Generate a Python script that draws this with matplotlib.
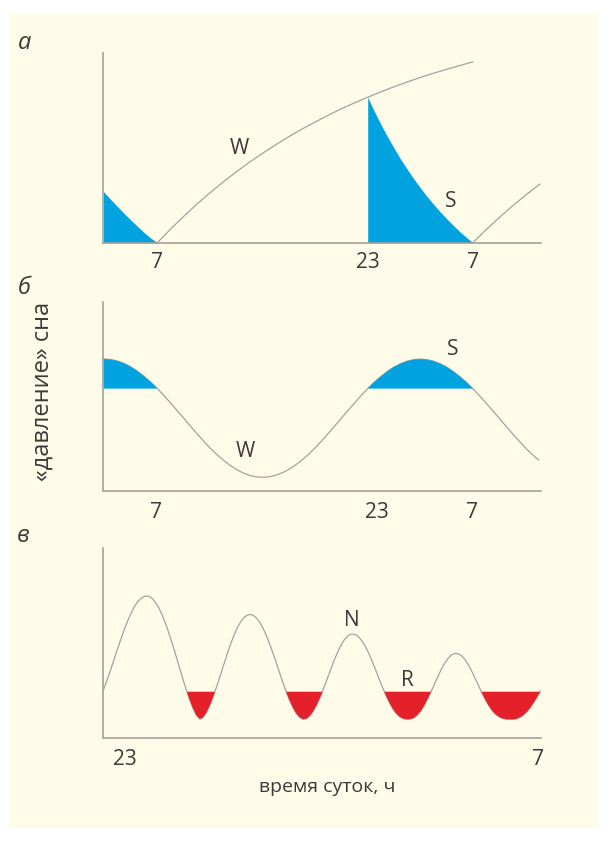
import numpy as np
import matplotlib
matplotlib.use("Agg")
import matplotlib.pyplot as plt
from matplotlib.patches import Rectangle

plt.rcParams['font.family'] = ['Open Sans', 'DejaVu Sans']

# ---------------- data ----------------
# panel а: hours (7 = 7:00, 23 = 23:00, 31 = 7:00 next day)
a_W_hours = list(range(7, 32))
a_W = [0.0, 7.2, 13.9, 20.3, 26.3, 32.0, 37.3, 42.4, 47.1, 51.6, 55.9, 59.9, 63.6,
       67.2, 70.6, 73.7, 76.7, 79.5, 82.2, 84.7, 87.1, 89.3, 91.4, 93.4, 95.3]
a_S_hours = [23 + 0.5 * i for i in range(17)]
a_S = [76.7, 69.3, 62.4, 56.0, 49.9, 44.1, 38.8, 33.7, 29.0, 24.5, 20.3, 16.4,
       12.7, 9.2, 5.9, 2.9, 0.0]
a_Sprev_hours = [2.9, 3.5, 4, 4.5, 5, 5.5, 6, 6.5, 7]
a_Sprev = [26.9, 22.4, 18.8, 15.2, 11.8, 8.5, 5.3, 2.4, 0.0]
a_Wnext_hours = [31, 32, 33, 34, 35, 36.1]
a_Wnext = [0.0, 6.8, 13.2, 19.3, 25.0, 30.9]

# panel б: sleep pressure, half-hour samples
b_hours = [2.9] + [3 + 0.5 * i for i in range(67)]
b_P = [69.7,
       69.7, 69.4, 68.6, 67.3, 65.5, 63.2, 60.5, 57.5, 54.1, 50.4, 46.5, 42.5, 38.5,
       34.4, 30.4, 26.5, 22.8, 19.4, 16.4, 13.7, 11.4, 9.6, 8.3, 7.5, 7.2,
       7.5, 8.3, 9.6, 11.4, 13.7, 16.4, 19.4, 22.8, 26.5, 30.4, 34.4, 38.5,
       42.5, 46.5, 50.4, 54.1, 57.5, 60.5, 63.2, 65.5, 67.3, 68.6, 69.4, 69.7,
       69.4, 68.6, 67.3, 65.5, 63.2, 60.5, 57.5, 54.1, 50.4, 46.5, 42.5, 38.5,
       34.4, 30.4, 26.5, 22.8, 19.4, 16.4]
b_threshold = 54.1

# panel в: sleep stages, samples every 4 minutes from 23:00
v_minutes = list(range(-26, 483, 4))
v_depth = [25.1, 30.1, 35.3, 40.8, 46.3, 51.6, 56.7, 61.4, 65.5, 69.0, 71.7, 73.5, 74.5,
           74.5, 73.5, 71.5, 68.6, 64.8, 60.2, 55.1, 49.4, 43.5, 37.4, 31.3, 25.5, 20.1,
           15.5, 11.8, 9.8, 10.8, 13.6, 17.5, 22.3, 27.5, 33.1, 38.8, 44.4, 49.6, 54.3,
           58.3, 61.4, 63.6, 64.7, 64.8, 63.8, 61.8, 58.9, 55.1, 50.7, 45.8, 40.5, 35.0,
           29.7, 24.6, 19.9, 16.0, 12.8, 10.7, 9.7, 10.1, 11.6, 14.1, 17.5, 21.5, 26.1,
           31.0, 35.9, 40.6, 44.9, 48.7, 51.6, 53.6, 54.5, 54.4, 53.3, 51.2, 48.3, 44.7,
           40.5, 36.0, 31.3, 26.8, 22.5, 18.7, 15.4, 12.9, 11.1, 10.1, 9.7, 9.8, 10.3,
           11.6, 13.6, 16.4, 19.8, 23.6, 27.6, 31.6, 35.5, 38.8, 41.5, 43.4, 44.3, 44.2,
           43.2, 41.2, 38.4, 35.0, 31.2, 27.3, 23.4, 19.8, 16.7, 14.1, 12.2, 10.9, 10.1,
           9.8, 9.7, 9.7, 10.0, 10.7, 11.9, 13.6, 15.9, 18.5, 21.5, 24.5]
v_threshold = 24.2

# tick labels
a_ticks, a_ticklabels = [7, 23, 31], ["7", "23", "7"]
b_ticks, b_ticklabels = [6.9, 23.7, 30.9], ["7", "23", "7"]
v_ticks, v_ticklabels = [22.98, 30.98], ["23", "7"]

# ---------------- style ----------------
BG = '#FEFBE9'
AXC = '#a2a298'
LINE = '#a3a39e'
BLUE = '#00A3DF'
RED = '#E4202B'
TXT = '#3a3a3a'

W_PX, H_PX = 609, 841
fig = plt.figure(figsize=(W_PX / 100, H_PX / 100), dpi=100, facecolor='white')
bg = Rectangle((10 / W_PX, 13 / H_PX), 588 / W_PX, 815 / H_PX,
               transform=fig.transFigure, facecolor=BG, edgecolor='none', zorder=-10)
fig.patches.append(bg)


def px_axes(x0, y_top, x1, y_bot):
    ax = fig.add_axes([x0 / W_PX, 1 - y_bot / H_PX, (x1 - x0) / W_PX,
                       (y_bot - y_top) / H_PX])
    ax.set_zorder(5)
    return ax


def style(ax, ticks, labels, pad):
    ax.patch.set_visible(False)
    for s in ('top', 'right'):
        ax.spines[s].set_visible(False)
    for s in ('left', 'bottom'):
        ax.spines[s].set_color(AXC)
        ax.spines[s].set_linewidth(1.2)
    ax.set_yticks([])
    ax.set_xticks(ticks)
    ax.set_xticklabels(labels, fontsize=15, color=TXT)
    ax.tick_params(axis='x', length=0, pad=pad)
    ax.set_ylim(0, 100)


LBL = 15

# panel а
ax1 = px_axes(103.5, 53, 541.2, 242.7)
ax1.set_xlim(2.9, 36.2)
ax1.fill_between(a_S_hours, 0, a_S, color=BLUE, lw=0, zorder=2)
ax1.fill_between(a_Sprev_hours, 0, a_Sprev, color=BLUE, lw=0, zorder=2)
ax1.plot(a_W_hours, a_W, color=LINE, lw=0.9, zorder=1)
ax1.plot(a_Wnext_hours, a_Wnext, color=LINE, lw=0.9, zorder=1)
ax1.text(13.2, 49.5, "W", fontsize=LBL, color=TXT, ha='center', va='center')
ax1.text(29.3, 21.6, "S", fontsize=LBL, color=TXT, ha='center', va='center')
style(ax1, a_ticks, a_ticklabels, 6.5)

# panel б
ax2 = px_axes(103.5, 301.7, 541.2, 491)
ax2.set_xlim(2.9, 36.2)
ax2.plot(b_hours, b_P, color=LINE, lw=0.9, zorder=1)
bp = np.array(b_P)
ax2.fill_between(b_hours, b_threshold, b_P, where=bp >= b_threshold,
                 interpolate=True, color=BLUE, lw=0, zorder=2)
ax2.text(13.7, 20.8, "W", fontsize=LBL, color=TXT, ha='center', va='center')
ax2.text(29.5, 74.9, "S", fontsize=LBL, color=TXT, ha='center', va='center')
style(ax2, b_ticks, b_ticklabels, 8.2)

# panel в
ax3 = px_axes(103.5, 547.7, 541.2, 737.7)
v_hours = [23 + m / 60 for m in v_minutes]
ax3.set_xlim(22.567, 31.045)
ax3.plot(v_hours, v_depth, color=LINE, lw=0.9, zorder=1)
vd = np.array(v_depth)
ax3.fill_between(v_hours, vd, v_threshold, where=vd <= v_threshold,
                 interpolate=True, color=RED, lw=0, zorder=2)
ax3.text(27.375, 61.9, "N", fontsize=LBL, color=TXT, ha='center', va='center')
ax3.text(28.45, 30.0, "R", fontsize=LBL, color=TXT, ha='center', va='center')
style(ax3, v_ticks, v_ticklabels, 7.9)

# panel letters and axis titles
for (x, y, s) in [(25, 43, "а"), (24, 288, "б"), (23, 536, "в")]:
    fig.text(x / W_PX, 1 - y / H_PX, s, fontsize=17, style='italic', color=TXT,
             ha='center', va='center')
fig.text(43 / W_PX, 1 - 391.5 / H_PX, "«давление» сна", rotation=90, fontsize=17,
         color=TXT, ha='center', va='center')
fig.text(327 / W_PX, 1 - 786.7 / H_PX, "время суток, ч", fontsize=14, color=TXT,
         ha='center', va='center')

fig.savefig("out.png", dpi=100, facecolor='white')
